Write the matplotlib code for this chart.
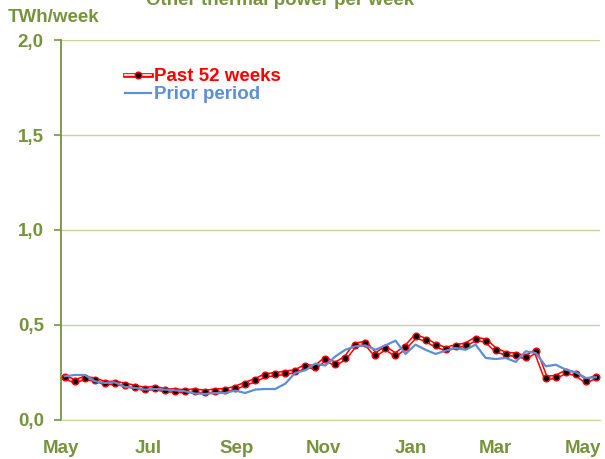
import pandas as pd
import matplotlib.pyplot as plt
import matplotlib.dates as mdates
from matplotlib.lines import Line2D
from matplotlib.legend_handler import HandlerTuple

plt.rcParams['font.family'] = ['Liberation Sans', 'DejaVu Sans']
plt.rcParams['font.weight'] = 'bold'

# weekly values, TWh/week
weeks = pd.date_range('2014-05-04', periods=54, freq='7D')
past = [0.223, 0.202, 0.219, 0.211, 0.193, 0.193, 0.184, 0.172, 0.161, 0.167,
        0.154, 0.153, 0.149, 0.153, 0.146, 0.153, 0.154, 0.167, 0.188, 0.207,
        0.233, 0.239, 0.247, 0.254, 0.281, 0.277, 0.319, 0.293, 0.325, 0.395,
        0.404, 0.342, 0.377, 0.342, 0.381, 0.439, 0.421, 0.391, 0.372, 0.386,
        0.395, 0.426, 0.416, 0.368, 0.347, 0.342, 0.328, 0.360, 0.219, 0.225,
        0.251, 0.240, 0.202, 0.225]
prior = [0.228, 0.235, 0.235, 0.202, 0.193, 0.196, 0.172, 0.167, 0.158, 0.161,
         0.158, 0.154, 0.149, 0.137, 0.135, 0.140, 0.140, 0.153, 0.140, 0.158,
         0.161, 0.161, 0.189, 0.246, 0.260, 0.295, 0.285, 0.333, 0.368, 0.386,
         0.391, 0.368, 0.391, 0.416, 0.346, 0.395, 0.368, 0.346, 0.363, 0.377,
         0.368, 0.395, 0.325, 0.319, 0.325, 0.304, 0.360, 0.351, 0.281, 0.289,
         0.263, 0.249, 0.219, 0.223]
yticks = [0.0, 0.5, 1.0, 1.5, 2.0]
month_ticks = ['2014-05-01', '2014-07-01', '2014-09-01', '2014-11-01',
               '2015-01-01', '2015-03-01', '2015-05-01']

green = '#77933C'
grid = '#C3D69B'
red = '#FF0000'
blue = '#5B8FD6'
fs = 13.5

fig = plt.figure(figsize=(6.05, 4.59), dpi=100)
ax = fig.add_axes([0.1, 0.086, 0.892, 0.826])

ax.plot(weeks, past, color=red, lw=3.4, zorder=3, solid_joinstyle='round')
ax.plot(weeks, past, color='white', lw=1.2, zorder=4,
        marker='o', markersize=4.8, markerfacecolor='black',
        markeredgecolor=red, markeredgewidth=1.0)
ax.plot(weeks, prior, color=blue, lw=1.6, zorder=5)

ax.set_ylim(0, 2.0)
ax.set_xlim(pd.Timestamp('2014-05-01'), pd.Timestamp('2015-05-13'))
ax.set_yticks(yticks)
ax.set_yticklabels([f'{v:.1f}'.replace('.', ',') for v in yticks])
ax.set_xticks(pd.to_datetime(month_ticks))
ax.xaxis.set_major_formatter(mdates.DateFormatter('%b'))

ax.grid(axis='y', color=grid, lw=1.0)
ax.set_axisbelow(True)
for s in ['top', 'right']:
    ax.spines[s].set_visible(False)
ax.spines['bottom'].set_color(grid)
ax.spines['left'].set_color(green)
ax.spines['left'].set_linewidth(1.3)
ax.tick_params(axis='y', colors=green, labelsize=fs, length=5, width=1.2,
               direction='out', pad=7)
ax.tick_params(axis='x', colors=green, labelsize=fs, length=0, pad=15)
for lab in ax.get_xticklabels() + ax.get_yticklabels():
    lab.set_color(green)
    lab.set_fontweight('bold')

h_red = (Line2D([], [], color=red, lw=3.4),
         Line2D([], [], color='white', lw=1.2, marker='o', markersize=4.8,
                markerfacecolor='black', markeredgecolor=red, markeredgewidth=1.0))
h_blue = Line2D([], [], color=blue, lw=1.6)
leg = ax.legend([h_red, h_blue], ['Past 52 weeks', 'Prior period'],
                handler_map={tuple: HandlerTuple(ndivide=1, pad=0)},
                loc='upper left', bbox_to_anchor=(125 / 605, 1 - 68 / 459),
                bbox_transform=fig.transFigure, frameon=False, fontsize=fs,
                borderpad=0, borderaxespad=0, handlelength=1.4,
                handletextpad=0.15, labelspacing=0.05)
for t, c in zip(leg.get_texts(), [red, blue]):
    t.set_color(c)
    t.set_fontweight('bold')

fig.text(8 / 605, 1 - 17 / 459, 'TWh/week', color=green, fontsize=fs,
         fontweight='bold', ha='left', va='center')
fig.text(280 / 605, 1 - 5 / 459, 'Other thermal power per week', color=green,
         fontsize=fs, fontweight='bold', ha='center', va='baseline')

fig.savefig('out.png', dpi=100)
